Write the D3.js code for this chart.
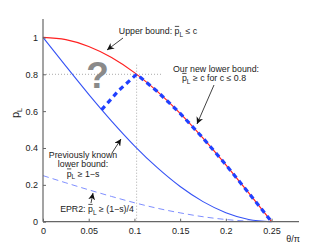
<!DOCTYPE html>
<html><head><meta charset="utf-8">
<script src="https://cdn.jsdelivr.net/npm/d3@7"></script>
<style>body{margin:0;background:#fff}svg{display:block}text{font-family:"Liberation Sans",Arial,sans-serif}</style>
</head><body>
<svg id="c" width="332" height="250"></svg>
<script>
// ---- data ----
const theta      = [0, 0.025, 0.05, 0.075, 0.1, 0.125, 0.15, 0.175, 0.2, 0.225, 0.25];
const upperBound = [1, 0.988, 0.951, 0.891, 0.809, 0.707, 0.588, 0.454, 0.309, 0.156, 0];
const prevLower  = [1, 0.844, 0.691, 0.546, 0.412, 0.293, 0.191, 0.109, 0.049, 0.012, 0];
const epr2       = [0.25, 0.211, 0.173, 0.137, 0.103, 0.073, 0.048, 0.027, 0.012, 0.003, 0];
const newTheta   = [0.064, 0.083, 0.1024, 0.125, 0.15, 0.175, 0.2, 0.225, 0.25];
const newLower   = [0.607, 0.713, 0.8, 0.707, 0.588, 0.454, 0.309, 0.156, 0];
const xTicks = [0, 0.05, 0.1, 0.15, 0.2, 0.25];
const xTickLabels = ["0", "0.05", "0.1", "0.15", "0.2", "0.25"];
const yTicks = [0, 0.2, 0.4, 0.6, 0.8, 1];
const yTickLabels = ["0", "0.2", "0.4", "0.6", "0.8", "1"];
const cMark = 0.8, thetaMark = 0.1024;

const svg = d3.select("#c");
const x = d3.scaleLinear().domain([0, 0.28]).range([43, 299]);
const y = d3.scaleLinear().domain([0, 1.1]).range([221.7, 19]);
const axisCol = "#666", txtCol = "#222";

// dotted guides
svg.append("line").attr("x1", x(0)).attr("x2", x(0.131)).attr("y1", y(cMark)).attr("y2", y(cMark))
  .attr("stroke", "#aaa").attr("stroke-width", 1).attr("stroke-dasharray", "1,2");
svg.append("line").attr("x1", x(thetaMark)).attr("x2", x(thetaMark)).attr("y1", y(0)).attr("y2", y(0.86))
  .attr("stroke", "#aaa").attr("stroke-width", 1).attr("stroke-dasharray", "1,2");

const line = (xs, ys, curve) => d3.line().x((d, i) => x(xs[i])).y(d => y(d)).curve(curve)(ys);

svg.append("path").attr("d", line(theta, epr2, d3.curveMonotoneX)).attr("fill", "none")
  .attr("stroke", "#7f8fff").attr("stroke-width", 1).attr("stroke-dasharray", "6,4");
svg.append("path").attr("d", line(theta, prevLower, d3.curveMonotoneX)).attr("fill", "none")
  .attr("stroke", "#3552f5").attr("stroke-width", 1.1);
svg.append("path").attr("d", line(theta, upperBound, d3.curveMonotoneX)).attr("fill", "none")
  .attr("stroke", "#ff2020").attr("stroke-width", 1.2);
svg.append("path").attr("d", line(newTheta, newLower, d3.curveLinear)).attr("fill", "none")
  .attr("stroke", "#2040ff").attr("stroke-width", 3.2).attr("stroke-dasharray", "5,4");

// axes
const xa = svg.append("g").attr("transform", `translate(0,${y(0)})`)
  .call(d3.axisBottom(x).tickValues(xTicks).tickFormat((d, i) => xTickLabels[i]).tickSizeInner(-3).tickSizeOuter(0).tickPadding(6));
const ya = svg.append("g").attr("transform", `translate(${x(0)},0)`)
  .call(d3.axisLeft(y).tickValues(yTicks).tickFormat((d, i) => yTickLabels[i]).tickSizeInner(-3).tickSizeOuter(0).tickPadding(5));
[xa, ya].forEach(a => {
  a.select(".domain").attr("stroke", axisCol).attr("stroke-width", 1.2);
  a.selectAll(".tick line").attr("stroke", axisCol);
  a.selectAll(".tick text").attr("fill", txtCol).attr("font-size", 9).attr("font-family", '"Liberation Sans",Arial,sans-serif');
});
xa.select(".domain").attr("d", `M${x(0)},0H${x(0.28)}`);
ya.select(".domain").attr("d", `M0,${y(0)}V${y(1.1)}`);

// axis labels
svg.append("text").attr("x", 293).attr("y", 242).attr("text-anchor", "middle").attr("font-size", 9)
  .attr("fill", txtCol).text("θ/π");
const yl = svg.append("text").attr("transform", "translate(19,113) rotate(-90)").attr("text-anchor", "middle")
  .attr("font-size", 11).attr("fill", txtCol);
yl.append("tspan").text("p");
yl.append("tspan").attr("font-size", 7).attr("dy", 3).text("L");

// question mark
svg.append("text").attr("x", 97.5).attr("y", 88).attr("text-anchor", "middle").attr("font-size", 37)
  .attr("font-weight", "bold").attr("fill", "#8a8a8a").text("?");

// annotations
function label(cx, by, parts) {
  const t = svg.append("text").attr("x", cx).attr("y", by).attr("text-anchor", "middle")
    .attr("font-size", 8.8).attr("fill", txtCol);
  if (typeof parts === "string") { t.text(parts); return; }
  const before = parts[0];
  if (before) t.append("tspan").text(before);
  t.append("tspan").text("p");
  t.append("tspan").attr("font-size", 6.5).attr("dy", 2.5).text("L");
  t.append("tspan").attr("dy", -2.5).text(parts[1]);
  const r = t.node().getExtentOfChar(before.length);
  svg.append("line").attr("x1", r.x + 0.3).attr("x2", r.x + r.width - 0.3)
    .attr("y1", by - 7.6).attr("y2", by - 7.6).attr("stroke", txtCol).attr("stroke-width", 0.8);
}
label(158, 34, ["Upper bound: ", " ≤ c"]);
label(216, 72, "Our new lower bound:");
label(214, 81, ["", " ≥ c for c ≤ 0.8"]);
label(83, 158, "Previously known");
label(83, 167, "lower bound:");
label(83, 176.5, ["", " ≥ 1−s"]);
label(97, 212, ["EPR2: ", " ≥ (1−s)/4"]);

svg.append("defs").append("marker").attr("id", "ah").attr("viewBox", "0 0 10 10").attr("refX", 10).attr("refY", 5)
  .attr("markerWidth", 7).attr("markerHeight", 7).attr("markerUnits", "userSpaceOnUse").attr("orient", "auto")
  .append("path").attr("d", "M0,0L10,5L0,10L3,5Z").attr("fill", "#111");
function arrow(x1, y1, x2, y2) {
  svg.append("line").attr("x1", x1).attr("y1", y1).attr("x2", x2).attr("y2", y2)
    .attr("stroke", "#111").attr("stroke-width", 0.8).attr("marker-end", "url(#ah)");
}
arrow(123, 38, 107, 50);
arrow(214, 85, 197, 124);
arrow(112, 153, 121, 139);
arrow(91, 203, 93, 193);
</script>
</body></html>
